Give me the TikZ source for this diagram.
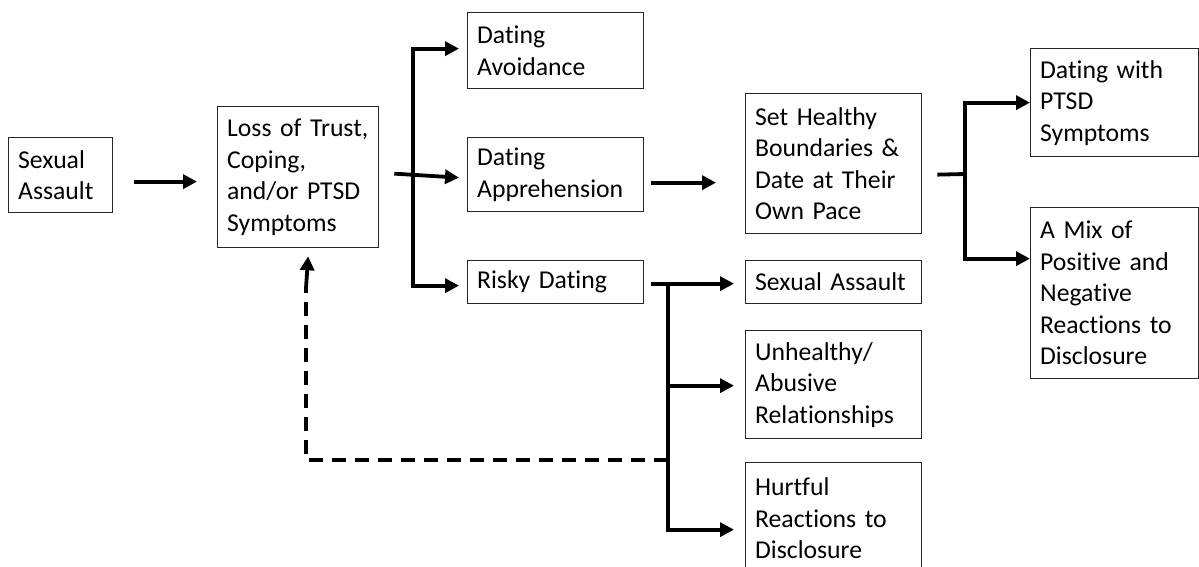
\documentclass[tikz,border=0pt]{standalone}
\usepackage{fontspec}
\setmainfont[Ligatures={NoCommon}]{Carlito}
\usetikzlibrary{arrows.meta,calc}
\begin{document}
\begin{tikzpicture}[x=1pt,y=-1pt,
  box/.style={draw=black!85,line width=1.3pt,rectangle,anchor=north west,
    inner xsep=9.5pt,inner ysep=0pt,align=left,
    font=\fontsize{25.7}{31.5}\selectfont},
  link/.style={line width=3.8pt,line join=miter},
  arr/.style={link,-{Triangle[length=14pt,width=14pt]}},
  dashline/.style={line width=3.2pt,dash pattern=on 14pt off 9pt}]
\useasboundingbox (0,0) rectangle (1199,567);
\begin{scope}
\clip (0,0) rectangle (1199,567);
\newcommand{\bx}[7]{\node[box,text width=#4pt-19pt,minimum width=#4pt,minimum height=#5pt] (#1) at (#2,#3) {#6};}
\bx{sa}{8}{137}{104}{75}{Sexual\\Assault}{}
\bx{loss}{217}{106}{161}{141}{Loss of Trust,\\Coping,\\and/or PTSD\\Symptoms}{}
\bx{avoid}{467}{12}{176}{76}{Dating\\Avoidance}{}
\bx{appr}{467}{137}{176}{74}{Dating\\Apprehension}{}
\bx{risky}{467}{260}{176}{43}{Risky Dating}{}
\bx{set}{745}{93}{176}{140}{Set Healthy\\Boundaries \&\\Date at Their\\Own Pace}{}
\bx{sa2}{745}{260}{176}{43}{Sexual Assault}{}
\bx{unh}{745}{330}{176}{108}{Unhealthy/\\Abusive\\Relationships}{}
\bx{hurt}{745}{462}{176}{112}{Hurtful\\Reactions to\\Disclosure}{}
\bx{ptsd}{1030}{48}{168}{108}{Dating with\\PTSD\\Symptoms}{}
\bx{mix}{1030}{207}{168}{171}{A Mix of\\Positive and\\Negative\\Reactions to\\Disclosure}{}
\end{scope}
% Sexual Assault -> Loss
\draw[arr] ($(sa.east)+(21,6.5)$) -- ($(loss.west)+(-20,4.5)$);
% Loss -> three dating outcomes
\coordinate (j1) at (413,177);
\draw[arr] ($(loss.east)+(15,-3.5)$) -- ($(appr.west)+(-8,3)$);
\draw[arr] (j1) |- ($(avoid.west)+(-8,-2)$);
\draw[arr] (j1) |- ($(risky.west)+(-8,3.5)$);
% Apprehension -> Set Healthy
\draw[arr] ($(appr.east)+(7,8)$) -- ($(set.west)+(-29,19)$);
% Set Healthy -> two outcomes
\coordinate (j2) at (965,174);
\draw[link] ($(set.east)+(15,11)$) -- (j2);
\draw[arr] (j2) |- (ptsd.west);
\draw[arr] (j2) |- ($(mix.west)+(0,-34.5)$);
% Risky dating -> three outcomes
\coordinate (j3) at (668,283);
\draw[arr] ($(risky.east)+(7,1.5)$) -- ($(sa2.west)+(-11,1.5)$);
\draw[arr] (j3) |- ($(unh.west)+(-11,1)$);
\draw[arr] (j3) |- ($(hurt.west)+(-11,11)$);
% dashed feedback
\coordinate (d1) at (668,460);
\coordinate (d2) at (306,288);
\draw[dashline] (d1) -| (d2);
\draw[arr] (d2) -- ($(loss.south)+(10,8)$);
\end{tikzpicture}
\end{document}
